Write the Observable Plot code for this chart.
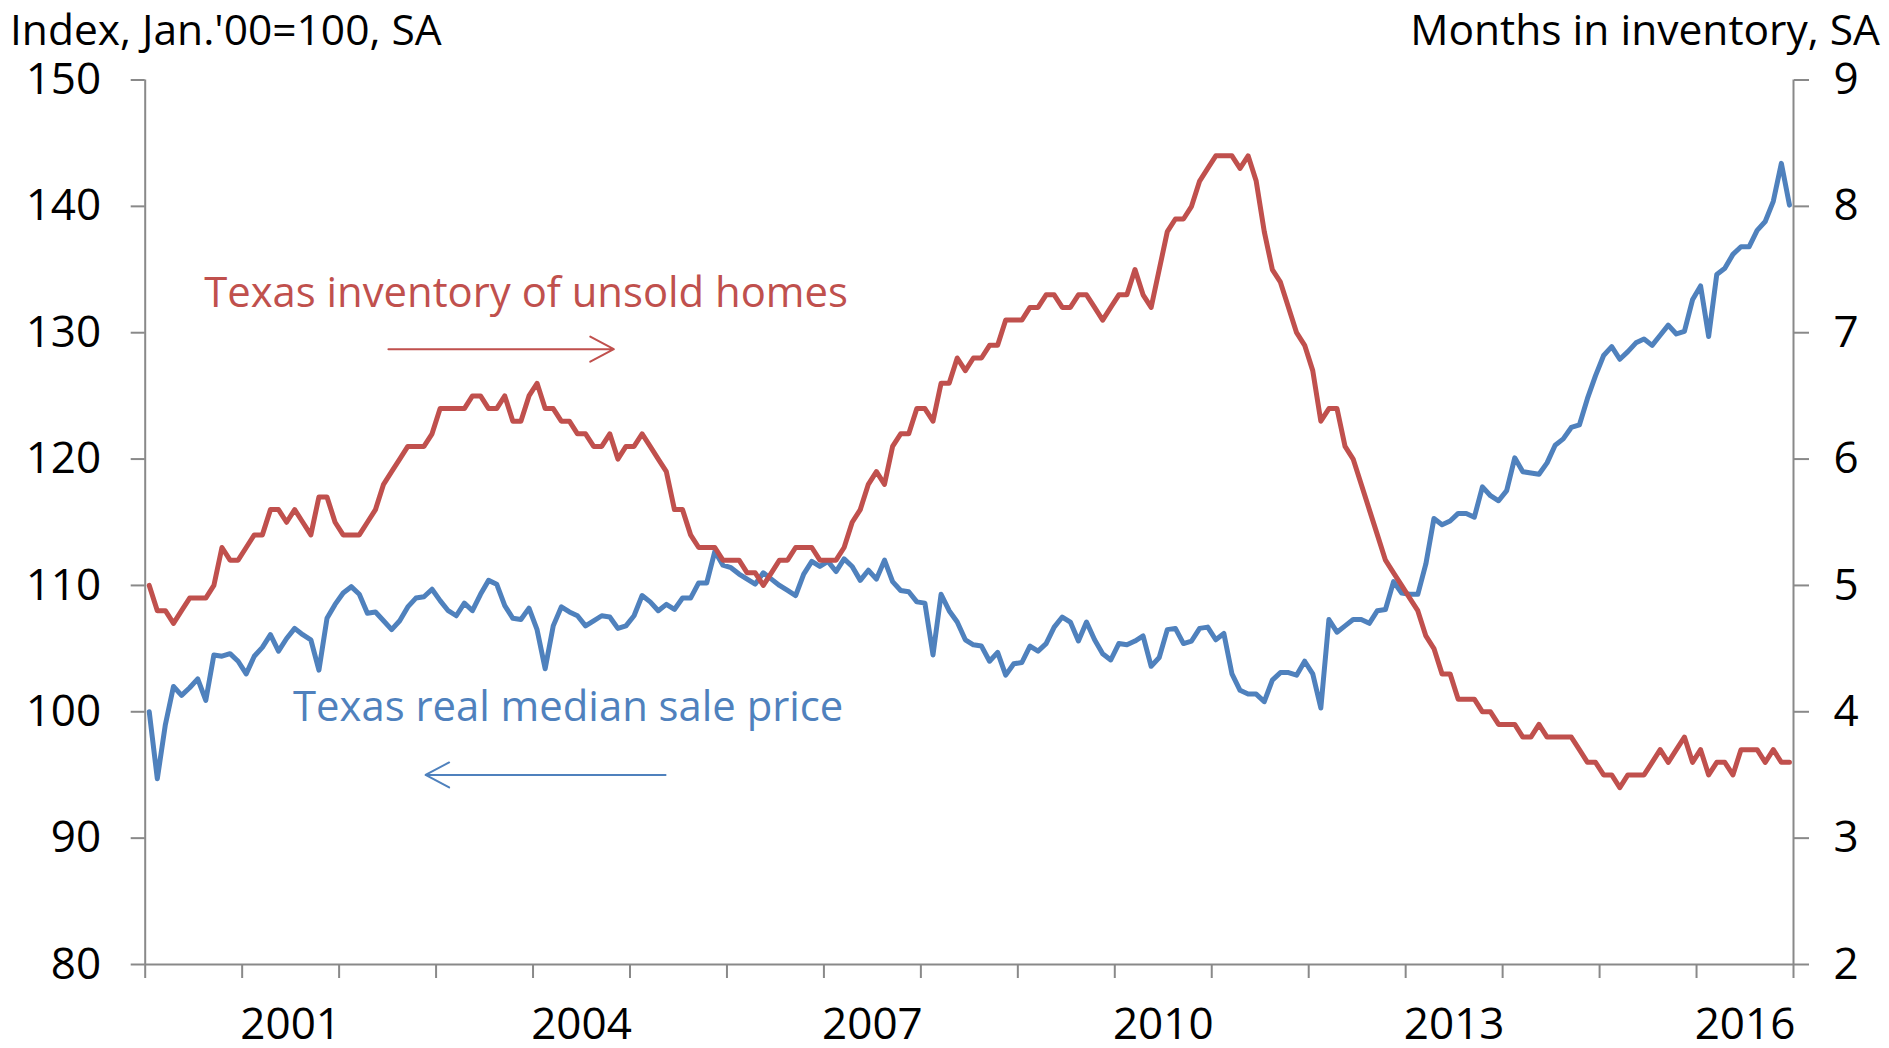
<!DOCTYPE html>
<html>
<head>
<meta charset="utf-8">
<script src="https://cdn.jsdelivr.net/npm/d3@7"></script>
<script src="https://cdn.jsdelivr.net/npm/@observablehq/plot@0.6"></script>
<style>
  html, body { margin: 0; padding: 0; background: #fff; }
  #wrap { width: 1889px; height: 1048px; position: relative; font-family: "Open Sans", sans-serif; }
  #header { height: 54px; position: relative; font-size: 42.5px; color: #000; }
  #header span { position: absolute; display: block; top: 9px; height: 40px; line-height: 40px; white-space: nowrap; }
  #lt { left: 10px; }
  #rt { right: 9px; }
</style>
</head>
<body>
<div id="wrap">
  <div id="header"><span id="lt"></span><span id="rt"></span></div>
  <div id="chart"></div>
</div>
<script>
// ---- Data (monthly, Jan 2000 – Dec 2016) ----
const startYear = 2000;
const leftTitle = "Index, Jan.'00=100, SA";
const rightTitle = "Months in inventory, SA";

// Texas real median sale price, index Jan '00 = 100 (left axis)
const priceIndex = [
  100.0, 94.7, 99.0, 102.0, 101.3, 101.9, 102.6, 100.9, 104.5, 104.4, 104.6, 104.0,
  103.0, 104.4, 105.1, 106.1, 104.8, 105.8, 106.6, 106.1, 105.7, 103.3, 107.4, 108.5,
  109.4, 109.9, 109.3, 107.8, 107.9, 107.2, 106.5, 107.2, 108.3, 109.0, 109.1, 109.7,
  108.8, 108.0, 107.6, 108.6, 108.0, 109.3, 110.4, 110.1, 108.4, 107.4, 107.3, 108.2,
  106.5, 103.4, 106.8, 108.3, 107.9, 107.6, 106.8, 107.2, 107.6, 107.5, 106.6, 106.8,
  107.6, 109.2, 108.7, 108.0, 108.5, 108.1, 109.0, 109.0, 110.2, 110.2, 112.7, 111.6,
  111.4, 110.9, 110.5, 110.1, 111.0, 110.5, 110.0, 109.6, 109.2, 110.9, 111.9, 111.5,
  111.9, 111.1, 112.1, 111.5, 110.4, 111.2, 110.5, 112.0, 110.3, 109.6, 109.5, 108.7,
  108.6, 104.5, 109.3, 108.0, 107.1, 105.7, 105.3, 105.2, 104.0, 104.7, 102.9, 103.8,
  103.9, 105.2, 104.8, 105.4, 106.7, 107.5, 107.1, 105.6, 107.1, 105.7, 104.6, 104.1,
  105.4, 105.3, 105.6, 106.0, 103.6, 104.3, 106.5, 106.6, 105.4, 105.6, 106.6, 106.7,
  105.7, 106.2, 103.0, 101.7, 101.4, 101.4, 100.8, 102.5, 103.1, 103.1, 102.9, 104.0,
  103.0, 100.3, 107.3, 106.3, 106.8, 107.3, 107.3, 107.0, 108.0, 108.1, 110.3, 109.4,
  109.3, 109.3, 111.7, 115.3, 114.8, 115.1, 115.7, 115.7, 115.4, 117.8, 117.1, 116.7,
  117.5, 120.1, 119.0, 118.9, 118.8, 119.7, 121.1, 121.6, 122.5, 122.7, 124.8, 126.6,
  128.2, 128.9, 127.9, 128.5, 129.2, 129.5, 129.0, 129.8, 130.6, 129.9, 130.1, 132.6,
  133.7, 129.7, 134.6, 135.1, 136.2, 136.8, 136.8, 138.1, 138.8, 140.4, 143.4, 140.1
];

// Texas months of inventory of unsold homes (right axis)
const inventoryMonths = [
  5.0, 4.8, 4.8, 4.7, 4.8, 4.9, 4.9, 4.9, 5.0, 5.3, 5.2, 5.2,
  5.3, 5.4, 5.4, 5.6, 5.6, 5.5, 5.6, 5.5, 5.4, 5.7, 5.7, 5.5,
  5.4, 5.4, 5.4, 5.5, 5.6, 5.8, 5.9, 6.0, 6.1, 6.1, 6.1, 6.2,
  6.4, 6.4, 6.4, 6.4, 6.5, 6.5, 6.4, 6.4, 6.5, 6.3, 6.3, 6.5,
  6.6, 6.4, 6.4, 6.3, 6.3, 6.2, 6.2, 6.1, 6.1, 6.2, 6.0, 6.1,
  6.1, 6.2, 6.1, 6.0, 5.9, 5.6, 5.6, 5.4, 5.3, 5.3, 5.3, 5.2,
  5.2, 5.2, 5.1, 5.1, 5.0, 5.1, 5.2, 5.2, 5.3, 5.3, 5.3, 5.2,
  5.2, 5.2, 5.3, 5.5, 5.6, 5.8, 5.9, 5.8, 6.1, 6.2, 6.2, 6.4,
  6.4, 6.3, 6.6, 6.6, 6.8, 6.7, 6.8, 6.8, 6.9, 6.9, 7.1, 7.1,
  7.1, 7.2, 7.2, 7.3, 7.3, 7.2, 7.2, 7.3, 7.3, 7.2, 7.1, 7.2,
  7.3, 7.3, 7.5, 7.3, 7.2, 7.5, 7.8, 7.9, 7.9, 8.0, 8.2, 8.3,
  8.4, 8.4, 8.4, 8.3, 8.4, 8.2, 7.8, 7.5, 7.4, 7.2, 7.0, 6.9,
  6.7, 6.3, 6.4, 6.4, 6.1, 6.0, 5.8, 5.6, 5.4, 5.2, 5.1, 5.0,
  4.9, 4.8, 4.6, 4.5, 4.3, 4.3, 4.1, 4.1, 4.1, 4.0, 4.0, 3.9,
  3.9, 3.9, 3.8, 3.8, 3.9, 3.8, 3.8, 3.8, 3.8, 3.7, 3.6, 3.6,
  3.5, 3.5, 3.4, 3.5, 3.5, 3.5, 3.6, 3.7, 3.6, 3.7, 3.8, 3.6,
  3.7, 3.5, 3.6, 3.6, 3.5, 3.7, 3.7, 3.7, 3.6, 3.7, 3.6, 3.6
];

const leftTicks = [80, 90, 100, 110, 120, 130, 140, 150];
const rightTicks = [2, 3, 4, 5, 6, 7, 8, 9];
const yearTickLabels = ["2001", "2004", "2007", "2010", "2013", "2016"];

// Annotations (positioned in data units: month index / left-axis value)
const annotationTexts = ["Texas inventory of unsold homes", "Texas real median sale price"];
const annotationX = [7.3, 18.3];
const annotationY = [133.1, 100.3];
const arrowX1 = [30.1, 64.4];
const arrowX2 = [58.0, 34.7];
const arrowY = [128.7, 95.0];

// ---- Styling ----
const RED = "#C0504D";
const BLUE = "#4F81BD";
const GRAY = "#898989";
const FONT = "Open Sans";
const FS_TICK = 44;
const FS_NOTE = 41.8;

// ---- Build ----
document.getElementById("lt").textContent = leftTitle;
document.getElementById("rt").textContent = rightTitle;

const nMonths = priceIndex.length;
const toLeft = d3.scaleLinear()
  .domain([rightTicks[0], rightTicks[rightTicks.length - 1]])
  .range([leftTicks[0], leftTicks[leftTicks.length - 1]]);

const priceData = priceIndex.map((v, i) => ({x: i + 0.5, v}));
const invData = inventoryMonths.map((v, i) => ({x: i + 0.5, v: toLeft(v)}));
const yearBoundaries = d3.range(0, nMonths + 1, 12);
const labelPositions = yearTickLabels.map(y => (+y - startYear) * 12 + 6);
const annotations = annotationTexts.map((t, i) => ({t, x: annotationX[i], y: annotationY[i],
  x1: arrowX1[i], x2: arrowX2[i], ya: arrowY[i], c: i === 0 ? RED : BLUE}));

const chart = Plot.plot({
  width: 1889,
  height: 994,
  marginTop: 25.5,
  marginBottom: 84,
  marginLeft: 144.7,
  marginRight: 96,
  style: {fontFamily: FONT, fontSize: FS_TICK + "px", color: "#000", background: "#fff", overflow: "visible"},
  x: {domain: [0, nMonths], label: null},
  y: {domain: [leftTicks[0], leftTicks[leftTicks.length - 1]], label: null},
  marks: [
    // axis lines
    Plot.ruleX([0, nMonths], {stroke: GRAY, strokeWidth: 2}),
    Plot.ruleY([leftTicks[0]], {stroke: GRAY, strokeWidth: 2}),
    // left axis
    Plot.axisY(leftTicks, {anchor: "left", tickSize: 14, tickPadding: 30, stroke: GRAY, strokeWidth: 2,
      fill: "#000", fontSize: FS_TICK, label: null}),
    // right axis
    Plot.axisY(leftTicks, {anchor: "right", tickSize: 15, tickPadding: 25, stroke: GRAY, strokeWidth: 2,
      fill: "#000", fontSize: FS_TICK, label: null,
      tickFormat: d => String(rightTicks[leftTicks.indexOf(d)])}),
    // x axis: year boundary ticks
    Plot.axisX(yearBoundaries, {anchor: "bottom", tickSize: 14, stroke: GRAY, strokeWidth: 2,
      tickFormat: () => "", label: null}),
    // x axis: year labels
    Plot.axisX(labelPositions, {anchor: "bottom", tickSize: 0, tickPadding: 43, fill: "#000",
      fontSize: FS_TICK, label: null, tickFormat: d => yearTickLabels[labelPositions.indexOf(d)]}),
    // series
    Plot.line(priceData, {x: "x", y: "v", stroke: BLUE, strokeWidth: 5}),
    Plot.line(invData, {x: "x", y: "v", stroke: RED, strokeWidth: 5}),
    // annotations
    Plot.text(annotations, {x: "x", y: "y", text: "t", fill: "c", textAnchor: "start",
      lineAnchor: "middle", fontSize: FS_NOTE}),
    Plot.arrow(annotations, {x1: "x1", x2: "x2", y1: "ya", y2: "ya", stroke: "c", strokeWidth: 2,
      headLength: 20, headAngle: 56})
  ]
});

document.getElementById("chart").appendChild(chart);
</script>
</body>
</html>
